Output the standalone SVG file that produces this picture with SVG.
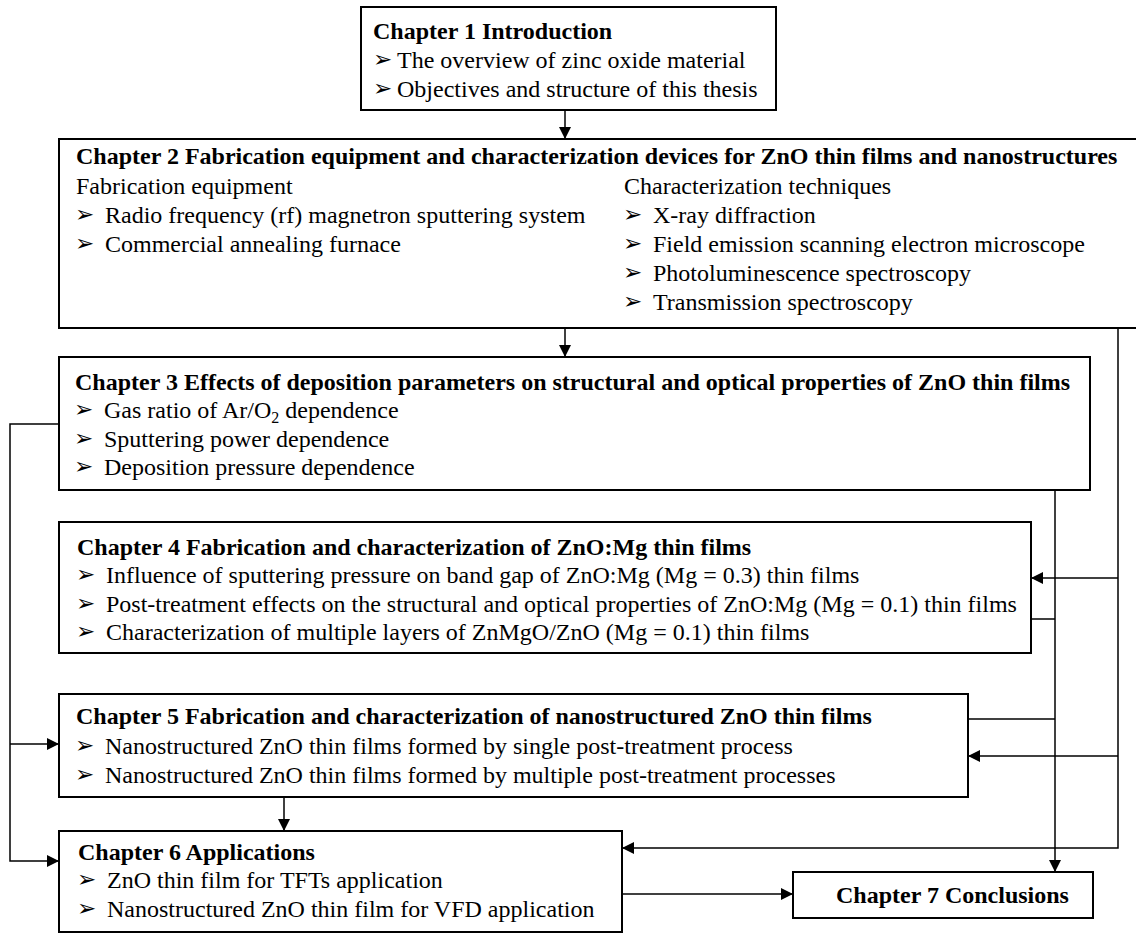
<svg xmlns="http://www.w3.org/2000/svg" width="1136" height="933" viewBox="0 0 1136 933">
<style>
  .box { fill: #ffffff; stroke: #000000; stroke-width: 2; }
  .t { font-family: 'Liberation Serif', 'Times New Roman', serif; font-size: 24px; fill: #000000; }
  .b { font-weight: bold; }
  .bl { font-family: 'DejaVu Sans', sans-serif; font-size: 23px; fill: #000000; }
  .c { fill: none; stroke: #000000; stroke-width: 1.5; }
</style>
<defs>
  <marker id="arr" markerUnits="userSpaceOnUse" markerWidth="12" markerHeight="12" refX="12" refY="6" orient="auto">
    <path d="M0,0 L12,6 L0,12 z" fill="#000000"/>
  </marker>
</defs>
<rect width="1136" height="933" fill="#ffffff"/>

<g id="connectors">
  <path class="c" d="M565,110 V139" marker-end="url(#arr)"/>
  <path class="c" d="M565,328 V357" marker-end="url(#arr)"/>
  <path class="c" d="M1118,328 V848 H622" marker-end="url(#arr)"/>
  <path class="c" d="M1118,578 H1031" marker-end="url(#arr)"/>
  <path class="c" d="M1118,756 H968" marker-end="url(#arr)"/>
  <path class="c" d="M1055,490 V872" marker-end="url(#arr)"/>
  <path class="c" d="M1031,619 H1055"/>
  <path class="c" d="M968,719 H1055"/>
  <path class="c" d="M59,424 H10 V861 H59" marker-end="url(#arr)"/>
  <path class="c" d="M10,744 H59" marker-end="url(#arr)"/>
  <path class="c" d="M284,797 V831" marker-end="url(#arr)"/>
  <path class="c" d="M622,894 H793" marker-end="url(#arr)"/>
</g>

<g id="ch1">
  <rect class="box" x="361" y="7" width="415" height="103"/>
  <text class="t b" x="373" y="39">Chapter 1 Introduction</text>
  <text class="bl" x="373" y="67">➢</text>
  <text class="t" x="397" y="68">The overview of zinc oxide material</text>
  <text class="bl" x="373" y="96">➢</text>
  <text class="t" x="397" y="97">Objectives and structure of this thesis</text>
</g>

<g id="ch2">
  <rect class="box" x="59" y="139" width="1085" height="189"/>
  <text class="t b" x="76" y="164">Chapter 2 Fabrication equipment and characterization devices for ZnO thin films and nanostructures</text>
  <text class="t" x="76" y="194">Fabrication equipment</text>
  <text class="bl" x="75" y="222">➢</text>
  <text class="t" x="105" y="223">Radio frequency (rf) magnetron sputtering system</text>
  <text class="bl" x="75" y="251">➢</text>
  <text class="t" x="105" y="252">Commercial annealing furnace</text>
  <text class="t" x="624" y="194">Characterization techniques</text>
  <text class="bl" x="623" y="222">➢</text>
  <text class="t" x="653" y="223">X-ray diffraction</text>
  <text class="bl" x="623" y="251">➢</text>
  <text class="t" x="653" y="252">Field emission scanning electron microscope</text>
  <text class="bl" x="623" y="280">➢</text>
  <text class="t" x="653" y="281">Photoluminescence spectroscopy</text>
  <text class="bl" x="623" y="309">➢</text>
  <text class="t" x="653" y="310">Transmission spectroscopy</text>
</g>

<g id="ch3">
  <rect class="box" x="59" y="357" width="1031" height="133"/>
  <text class="t b" x="75" y="390">Chapter 3 Effects of deposition parameters on structural and optical properties of ZnO thin films</text>
  <text class="bl" x="74" y="417">➢</text>
  <text class="t" x="104" y="418">Gas ratio of Ar/O<tspan font-size="16" dy="5">2</tspan><tspan dy="-5"> dependence</tspan></text>
  <text class="bl" x="74" y="446">➢</text>
  <text class="t" x="104" y="447">Sputtering power dependence</text>
  <text class="bl" x="74" y="474">➢</text>
  <text class="t" x="104" y="475">Deposition pressure dependence</text>
</g>

<g id="ch4">
  <rect class="box" x="59" y="522" width="972" height="131"/>
  <text class="t b" x="77" y="555">Chapter 4 Fabrication and characterization of ZnO:Mg thin films</text>
  <text class="bl" x="76" y="582">➢</text>
  <text class="t" x="106" y="583">Influence of sputtering pressure on band gap of ZnO:Mg (Mg = 0.3) thin films</text>
  <text class="bl" x="76" y="611">➢</text>
  <text class="t" x="106" y="612">Post-treatment effects on the structural and optical properties of ZnO:Mg (Mg = 0.1) thin films</text>
  <text class="bl" x="76" y="639">➢</text>
  <text class="t" x="106" y="640">Characterization of multiple layers of ZnMgO/ZnO (Mg = 0.1) thin films</text>
</g>

<g id="ch5">
  <rect class="box" x="59" y="694" width="909" height="103"/>
  <text class="t b" x="76" y="724">Chapter 5 Fabrication and characterization of nanostructured ZnO thin films</text>
  <text class="bl" x="75" y="753">➢</text>
  <text class="t" x="105" y="754">Nanostructured ZnO thin films formed by single post-treatment process</text>
  <text class="bl" x="75" y="782">➢</text>
  <text class="t" x="105" y="783">Nanostructured ZnO thin films formed by multiple post-treatment processes</text>
</g>

<g id="ch6">
  <rect class="box" x="59" y="831" width="563" height="101"/>
  <text class="t b" x="78" y="860">Chapter 6 Applications</text>
  <text class="bl" x="77" y="887">➢</text>
  <text class="t" x="107" y="888">ZnO thin film for TFTs application</text>
  <text class="bl" x="77" y="916">➢</text>
  <text class="t" x="107" y="917">Nanostructured ZnO thin film for VFD application</text>
</g>

<g id="ch7">
  <rect class="box" x="793" y="872" width="300" height="46"/>
  <text class="t b" x="836" y="903">Chapter 7 Conclusions</text>
</g>
</svg>
